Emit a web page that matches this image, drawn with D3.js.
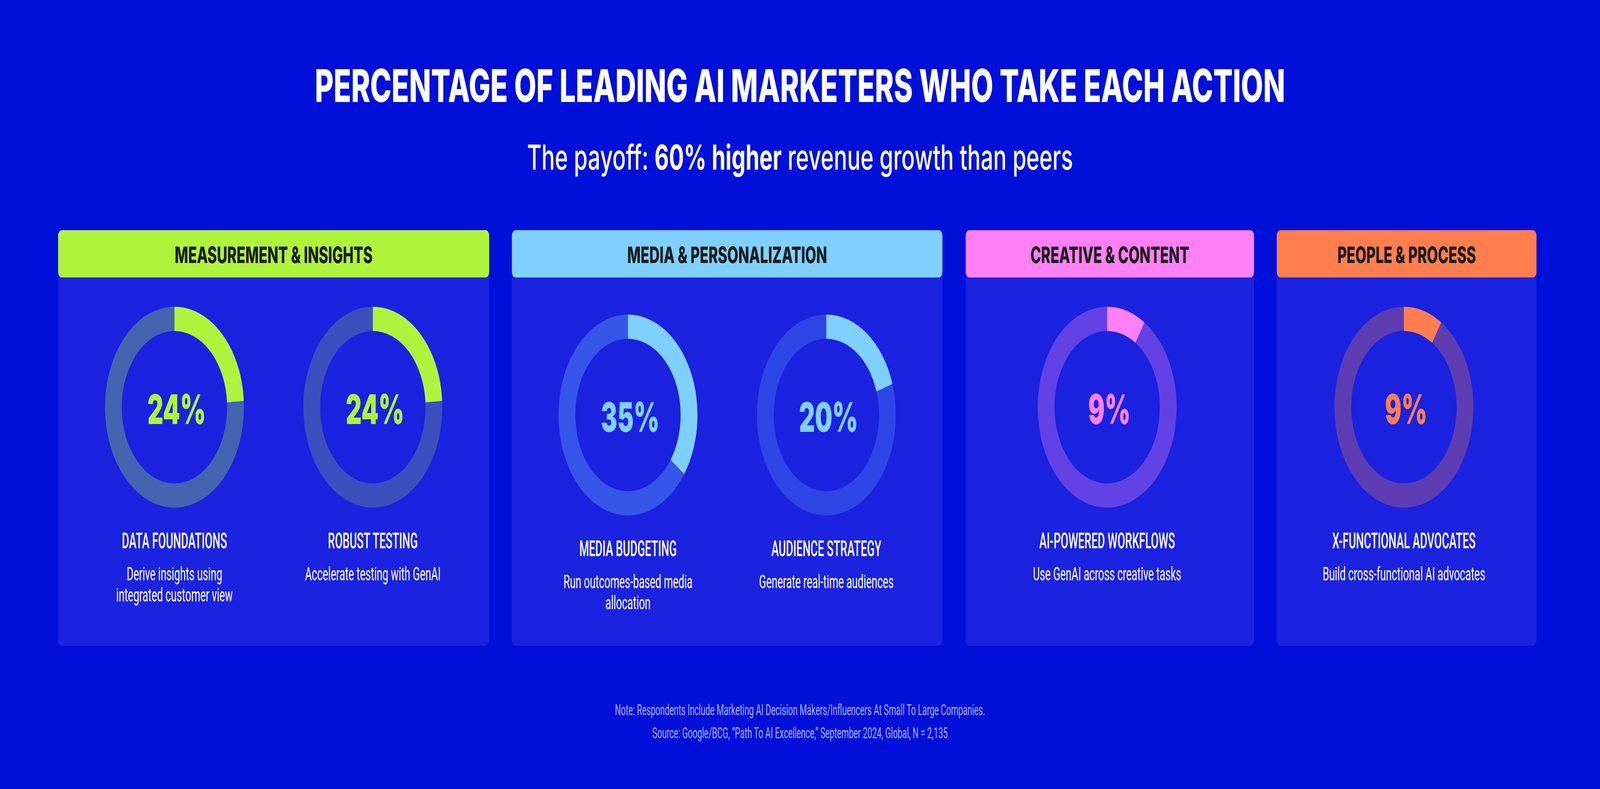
<!DOCTYPE html>
<html>
<head>
<meta charset="utf-8">
<script src="https://cdn.jsdelivr.net/npm/d3@7"></script>
<style>
  html, body { margin: 0; padding: 0; background: #0010d9; overflow: hidden; }
  svg { display: block; width: 100vw; height: 100vh; }
</style>
</head>
<body>
<svg id="chart" viewBox="0 0 5920 2019" preserveAspectRatio="none"></svg>
<script>
// ---------------- DATA ----------------
const titleText = "PERCENTAGE OF LEADING AI MARKETERS WHO TAKE EACH ACTION";
const subtitleParts = ["The payoff: ", "60% higher", " revenue growth than peers"];
const subtitleBold = [false, true, false];
const categories = ["MEASUREMENT & INSIGHTS", "MEDIA & PERSONALIZATION", "CREATIVE & CONTENT", "PEOPLE & PROCESS"];
const actionCategory = [0, 0, 1, 1, 2, 3];
const actionNames = ["DATA FOUNDATIONS", "ROBUST TESTING", "MEDIA BUDGETING", "AUDIENCE STRATEGY", "AI-POWERED WORKFLOWS", "X-FUNCTIONAL ADVOCATES"];
const actionDescriptions = [
  ["Derive insights using", "integrated customer view"],
  ["Accelerate testing with GenAI"],
  ["Run outcomes-based media", "allocation"],
  ["Generate real-time audiences"],
  ["Use GenAI across creative tasks"],
  ["Build cross-functional AI advocates"]
];
const actionValues = [24, 24, 35, 20, 9, 9];
const footnotes = [
  "Note: Respondents Include Marketing AI Decision Makers/Influencers At Small To Large Companies.",
  "Source: Google/BCG, \u201CPath To AI Excellence,\u201D September 2024, Global, N = 2,135"
];

// ---------------- STYLES ----------------
const bgColor = "#0010d9";
const panelColor = "#1b22e0";
const categoryColors = ["#b0f33d", "#80d0ff", "#ff80f5", "#ff7e50"];
const trackColors = ["#4663b0", "#3d4fbd", "#3556e8", "#2e46e6", "#6242e4", "#5e3db2"];
const footColor = "#aab2ff";

// ---------------- LAYOUT ----------------
const W = 5920, H = 2019;
const panelLeft = [215, 1894, 3573, 4724];
const panelRight = [1810, 3487, 4640, 5685];
const panelTop = 589, panelBottom = 1653, headerH = 121;
const panelYShift = [0, 20, 0, 0];
const donutCY = 1042, rOuter = 257, rInner = 195;

const svg = d3.select("#chart");
svg.append("rect").attr("width", W).attr("height", H).attr("fill", bgColor);

const fonts = {
  title:   { family: "Inter", weight: 800, size: 116 },
  sub:     { family: "Inter", weight: 500, size: 88 },
  header:  { family: "Inter", weight: 800, size: 58 },
  pct:     { family: "Inter", weight: 900, size: 105 },
  label:   { family: "Roboto", weight: 500, size: 55 },
  desc:    { family: "Roboto", weight: 400, size: 48 },
  foot:    { family: "Roboto", weight: 400, size: 38 }
};
function applyFont(sel, f) {
  return sel.attr("font-family", f.family).attr("font-weight", f.weight).attr("font-size", f.size);
}
function measure(f, str) {
  const t = applyFont(svg.append("text"), f).text(str);
  const w = t.node().getComputedTextLength();
  t.remove();
  return w;
}
const sx = {
  title: 3590 / measure(fonts.title, titleText),
  header: 732 / measure(fonts.header, categories[0]),
  pct: 216 / measure(fonts.pct, actionValues[0] + "%"),
  label: 389 / measure(fonts.label, actionNames[0]),
  desc: 431 / measure(fonts.desc, actionDescriptions[0][1]),
  foot: 1369 / measure(fonts.foot, footnotes[0])
};

function addText(parent, x, y, str, fKey, fill) {
  const g = parent.append("g").attr("transform", `translate(${x},${y}) scale(${sx[fKey]},1)`);
  return applyFont(g.append("text"), fonts[fKey])
    .attr("text-anchor", "middle").attr("fill", fill).text(str);
}

// Title
addText(svg, W / 2, 261, titleText, "title", "#ffffff");

// Subtitle (mixed weights)
{
  const tmp = applyFont(svg.append("text"), fonts.sub);
  subtitleParts.forEach((p, i) => tmp.append("tspan").attr("font-weight", subtitleBold[i] ? 700 : 500).text(p));
  const w = tmp.node().getComputedTextLength();
  tmp.remove();
  const s = 2020 / w;
  const g = svg.append("g").attr("transform", `translate(${W / 2},434) scale(${s},1)`);
  const t = applyFont(g.append("text"), fonts.sub).attr("text-anchor", "middle").attr("fill", "#ffffff");
  subtitleParts.forEach((p, i) => t.append("tspan").attr("font-weight", subtitleBold[i] ? 700 : 500).text(p));
}

// Panels
const panels = svg.append("g");
categories.forEach((c, i) => {
  const x0 = panelLeft[i], x1 = panelRight[i];
  panels.append("rect").attr("x", x0).attr("y", panelTop).attr("width", x1 - x0)
    .attr("height", panelBottom - panelTop).attr("rx", 16).attr("fill", panelColor);
  panels.append("rect").attr("x", x0).attr("y", panelTop).attr("width", x1 - x0)
    .attr("height", headerH).attr("rx", 14).attr("fill", categoryColors[i]);
  addText(panels, (x0 + x1) / 2, 673, c, "header", "#1c1c1c");
});

// Donuts
const angle = d3.scaleLinear().domain([0, 100]).range([0, 2 * Math.PI]);
const arc = d3.arc().innerRadius(rInner).outerRadius(rOuter);
const donutGroup = svg.append("g");
actionValues.forEach((v, i) => {
  const ci = actionCategory[i];
  const members = actionCategory.map((c, k) => c === ci ? k : -1).filter(k => k >= 0);
  const idx = members.indexOf(i);
  const pc = (panelLeft[ci] + panelRight[ci]) / 2;
  const cx = members.length === 2 ? pc + (idx === 0 ? -367 : 367) : pc - 10;
  const dy = panelYShift[ci];
  const cy = donutCY + dy;
  const g = donutGroup.append("g").attr("transform", `translate(${cx},${cy})`);
  g.append("path").attr("d", arc({ startAngle: 0, endAngle: 2 * Math.PI })).attr("fill", trackColors[i]);
  g.append("path").attr("d", arc({ startAngle: 0, endAngle: angle(v) })).attr("fill", categoryColors[ci]);
  addText(donutGroup, cx + 8, cy + 43, v + "%", "pct", categoryColors[ci]);
  addText(donutGroup, cx, 1403 + dy, actionNames[i], "label", "#ffffff");
  actionDescriptions[i].forEach((line, j) => {
    addText(donutGroup, cx, 1485 + dy + j * 54, line, "desc", "#ffffff");
  });
});

// Footnotes
footnotes.forEach((f, j) => addText(svg, W / 2, 1830 + j * 59, f, "foot", footColor));
</script>
</body>
</html>
